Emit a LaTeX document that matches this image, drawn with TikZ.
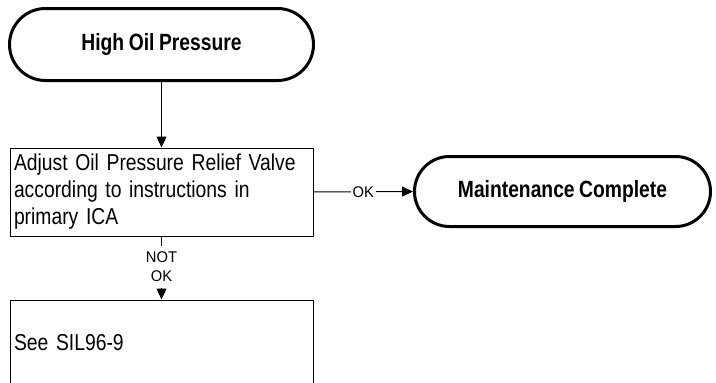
\documentclass[tikz,border=0pt]{standalone}
\usepackage{fontspec}
\setmainfont{Liberation Sans}
\newfontfamily\bodyfont[FakeStretch=0.84,WordSpace=0.8]{Liberation Sans}
\newfontfamily\headfont[FakeStretch=0.82,WordSpace=0.85]{Liberation Sans}
\newfontfamily\lblfont[FakeStretch=0.95]{Liberation Sans}
\usetikzlibrary{arrows.meta}
\begin{document}
\begin{tikzpicture}[x=1pt,y=-1pt,
  terminal/.style={draw, line width=3pt, rounded corners=#1, inner sep=0pt,
    font=\headfont\bfseries\fontsize{23.5}{27}\selectfont},
  stepbox/.style={draw, line width=1pt, inner xsep=4pt, inner ysep=0pt,
    text width=295pt, align=left, minimum width=303pt,
    font=\bodyfont\fontsize{23}{27}\selectfont},
  conn/.style={line width=1pt, -{Triangle[length=11pt,width=10pt]}},
  lbl/.style={fill=white, inner xsep=2pt, align=center,
    font=\lblfont\fontsize{15.5}{19}\selectfont}
]
\useasboundingbox (0,0) rectangle (716,383);
\node[terminal=36pt, minimum width=304pt, minimum height=72pt] (t) at (161.5,44.5) {High Oil Pressure};
\node[stepbox, minimum height=88pt] (b1) at (161.5,192) {Adjust Oil Pressure Relief Valve\\according to instructions in\\primary ICA};
\node[terminal=35pt, minimum width=296pt, minimum height=70pt] (m) at (562.5,191.5) {Maintenance Complete};
\node[stepbox, minimum height=86pt] (b2) at (161.5,343) {See SIL96-9};
\draw[conn] (t.south) -- (b1.north);
\draw[conn] (b1.east) -- node[lbl, inner ysep=1pt]{OK} (m.west);
\draw[conn] (b1.south) -- node[lbl, inner ysep=6pt, pos=0.48]{NOT\\OK} (b2.north);
\end{tikzpicture}
\end{document}
